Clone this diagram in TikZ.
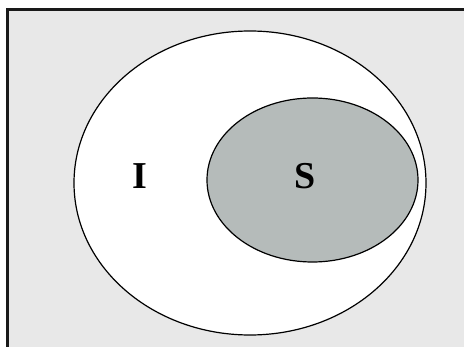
\documentclass[tikz,border=0pt]{standalone}
\usepackage{fontspec}
\setmainfont{Liberation Serif}
\definecolor{bggray}{HTML}{E8E8E8}
\definecolor{setgray}{HTML}{B5BBBA}
\begin{document}
\begin{tikzpicture}[x=1pt,y=-1pt,
  setline/.style={draw=black,line width=1.2pt},
  lbl/.style={font=\fontsize{38}{38}\selectfont\bfseries,inner sep=0pt}]
\useasboundingbox (0,0) rectangle (464,347);
\clip (0,0) rectangle (464,347);
\draw[fill=bggray,draw=black!90,line width=2.2pt] (7.5,9.5) rectangle (480,360);
\draw[setline,fill=white] (250,183) ellipse [x radius=176, y radius=152];
\draw[setline,fill=setgray] (312.5,180) ellipse [x radius=105.5, y radius=82];
\node[lbl] (I) at (139.5,176.5) {I};
\node[lbl] (S) at (305.5,176.5) {S};
\end{tikzpicture}
\end{document}
